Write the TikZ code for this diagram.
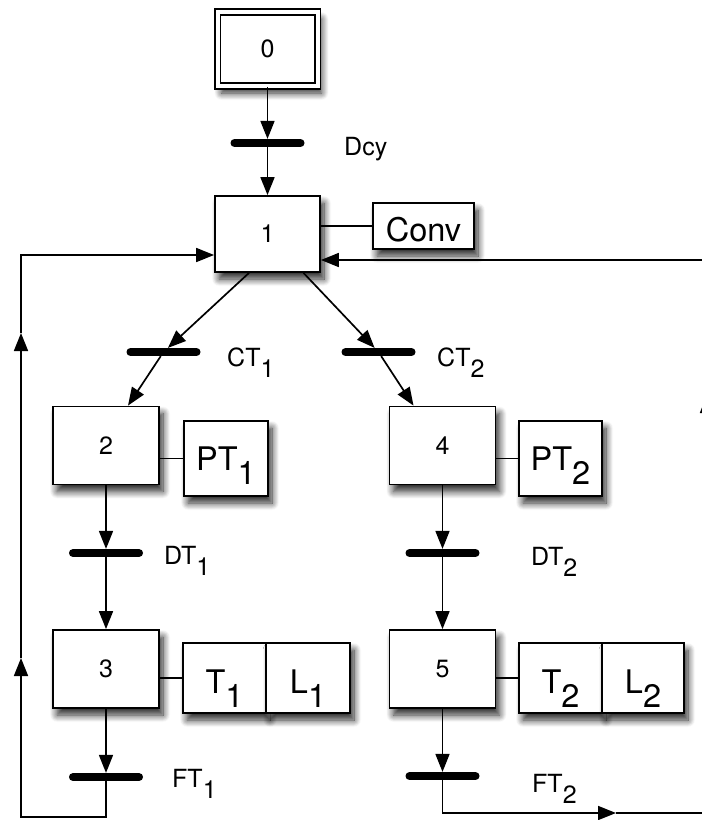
\documentclass[tikz,border=0pt]{standalone}
\usepackage{fontspec}
\setmainfont{TeX Gyre Heros}
\usetikzlibrary{arrows.meta,calc,shadows.blur}
\newcommand{\lowsb}[1]{\raisebox{-0.45em}{#1}}
\begin{document}
\begin{tikzpicture}[x=1pt,y=-1pt,
  box/.style={draw,line width=1.8pt,fill=white,inner sep=0pt,
    blur shadow={shadow xshift=4pt,shadow yshift=-7pt,shadow blur radius=7pt,shadow blur steps=10,shadow opacity=85}},
  stepbox/.style={box,minimum width=106pt,minimum height=78pt,font=\fontsize{25}{25}\selectfont},
  actbox/.style={box,font=\fontsize{32.5}{32.5}\selectfont,text depth=0pt},
  bar/.style={fill=black,rounded corners=3.8pt,minimum width=74pt,minimum height=7.8pt,inner sep=0pt},
  arr/.style={line width=1.7pt,-{Triangle[length=18pt,width=14pt]}},
  ln/.style={line width=1.4pt},
  lab/.style={font=\fontsize{25}{25}\selectfont,anchor=base west,inner sep=0pt}
]
\useasboundingbox (0,0) rectangle (702,820);

% steps
\node[stepbox,double,double distance=4pt,minimum width=100pt,minimum height=74pt] (b0) at (267.5,49) {0};
\node[stepbox,minimum width=105pt,minimum height=76pt] (b1) at (267.5,234) {1};
\node[stepbox] (b2) at (106,445.5) {2};
\node[stepbox] (b4) at (442.5,445.5) {4};
\node[stepbox] (b3) at (106,669) {3};
\node[stepbox] (b5) at (442.5,669) {5};

% actions
\node[actbox,minimum width=101pt,minimum height=46pt,text height=31pt] (conv) at (423.5,226) {Conv};
\node[actbox,minimum width=84pt,minimum height=75pt,text height=23pt] (pt1) at (226,458.5) {PT\lowsb{1}};
\node[actbox,minimum width=83pt,minimum height=75pt,text height=23pt] (pt2) at (560.5,458.5) {PT\lowsb{2}};
\node[actbox,minimum width=83pt,minimum height=70pt,text height=30pt] (t1) at (224.5,678) {T\lowsb{1}};
\node[actbox,minimum width=84pt,minimum height=70pt,text height=30pt] (l1) at (308,678) {L\lowsb{1}};
\node[actbox,minimum width=83pt,minimum height=70pt,text height=30pt] (t2) at (560.5,678) {T\lowsb{2}};
\node[actbox,minimum width=82pt,minimum height=70pt,text height=30pt] (l2) at (643,678) {L\lowsb{2}};

% transitions
\node[bar] (tr0) at (267.5,143) {};
\node[bar] (tr1) at (163.5,352) {};
\node[bar] (tr2) at (378.5,352) {};
\node[bar] (tr3) at (106,553) {};
\node[bar] (tr4) at (442.5,553) {};
\node[bar] (tr5) at (106,777) {};
\node[bar] (tr6) at (442.5,776) {};

% labels
\node[lab] (ldcy) at (344,155) {Dcy};
\node[lab] (lct1) at (227,366) {CT\lowsb{1}};
\node[lab] (lct2) at (437,366) {CT\lowsb{2}};
\node[lab] (ldt1) at (164,564) {DT\lowsb{1}};
\node[lab] (ldt2) at (531,565) {DT\lowsb{2}};
\node[lab] (lft1) at (172,787) {FT\lowsb{1}};
\node[lab] (lft2) at (532,792) {FT\lowsb{2}};

% action links
\draw[ln] (b1.east |- conv.west) -- (conv.west);
\draw[ln] (b2.east |- pt1.west) -- (pt1.west);
\draw[ln] (b4.east |- pt2.west) -- (pt2.west);
\draw[ln] (b3.east |- t1.west) -- (t1.west);
\draw[ln] (b5.east |- t2.west) -- (t2.west);

% main flow
\draw[arr] (b0) -- (tr0);
\draw[arr] (tr0) -- (b1);
\draw[arr] ($(b1.south)+(-18.5,0)$) -- (tr1);
\draw[arr] (tr1) -- ($(b2.north)+(22,0)$);
\draw[arr] ($(b1.south)+(36,0)$) -- (tr2);
\draw[arr] (tr2) -- ($(b4.north)+(-29,0)$);
\draw[arr] (b2) -- (tr3);
\draw[arr] (tr3) -- (b3);
\draw[arr] (b4) -- (tr4);
\draw[arr] (tr4) -- (b5);
\draw[arr] (b3) -- (tr5);
\draw[arr] (b5) -- (tr6);

% left loop
\coordinate (lb) at (21,817);
\coordinate (la1) at (21,658);
\coordinate (la2) at (21,333);
\coordinate (lt) at (21,255);
\draw[arr] (tr5.south) |- (lb) -- (la1);
\draw[arr] (la1) -- (la2);
\draw[arr] (la2) |- (b1.west |- lt);

% right loop
\coordinate (ra1) at (616,813);
\coordinate (rc) at (707,813);
\coordinate (ra2) at (707,395);
\coordinate (rt) at (707,260);
\draw[arr] (tr6.south) |- (ra1);
\draw[arr] (ra1) -- (rc) -- (ra2);
\draw[arr] (ra2) |- (b1.east |- rt);
\end{tikzpicture}
\end{document}
